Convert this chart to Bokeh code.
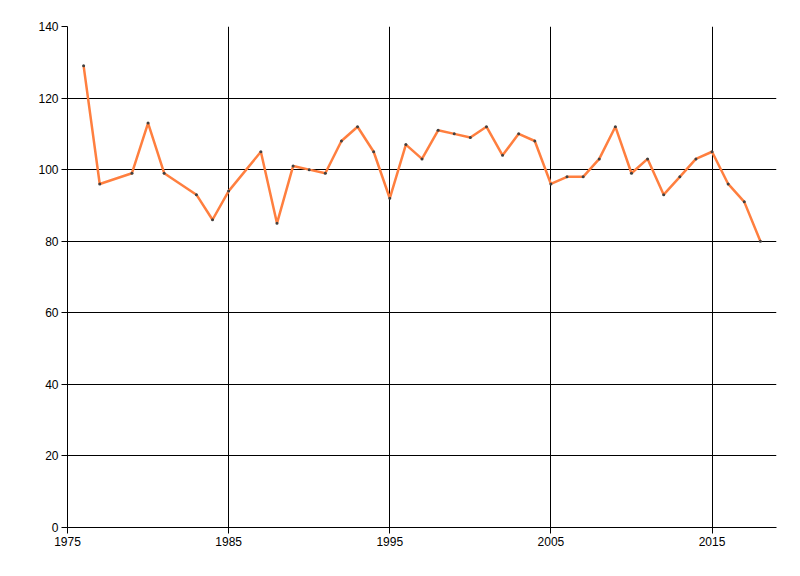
from bokeh.plotting import figure
from bokeh.models import FixedTicker, Range1d
from bokeh.embed import file_html
from bokeh.resources import INLINE

years = [1976, 1977, 1979, 1980, 1981, 1983, 1984, 1985,
         1987, 1988, 1989, 1990, 1991, 1992, 1993, 1994, 1995,
         1996, 1997, 1998, 1999, 2000, 2001, 2002, 2003, 2004, 2005,
         2006, 2007, 2008, 2009, 2010, 2011, 2012, 2013, 2014, 2015,
         2016, 2017, 2018]
values = [129, 96, 99, 113, 99, 93, 86, 94,
          105, 85, 101, 100, 99, 108, 112, 105, 92,
          107, 103, 111, 110, 109, 112, 104, 110, 108, 96,
          98, 98, 103, 112, 99, 103, 93, 98, 103, 105,
          96, 91, 80]
x_ticks = [1975, 1985, 1995, 2005, 2015]
y_ticks = [0, 20, 40, 60, 80, 100, 120, 140]

p = figure(width=792, height=568, output_backend="svg", toolbar_location=None,
           x_range=Range1d(1975, 2019), y_range=Range1d(0, 140),
           min_border_left=67, min_border_right=16, min_border_top=26, min_border_bottom=41)
p.outline_line_color = None
p.background_fill_color = "white"

p.line(years, values, line_color="#FF7F3F", line_width=2.5)
p.scatter(years, values, size=3, fill_color="#404040", line_color=None)

for ax in (p.xaxis[0], p.yaxis[0]):
    ax.axis_line_color = "black"
    ax.major_tick_line_color = "black"
    ax.minor_tick_line_color = None
    ax.major_tick_in = 0
    ax.major_tick_out = 6
    ax.major_label_text_font = "Liberation Sans"
    ax.major_label_text_font_size = "12px"
    ax.major_label_text_color = "black"
    ax.major_label_standoff = 3

p.xaxis.ticker = FixedTicker(ticks=x_ticks)
p.yaxis.ticker = FixedTicker(ticks=y_ticks)

p.xgrid.ticker = FixedTicker(ticks=x_ticks)
p.ygrid.ticker = FixedTicker(ticks=y_ticks)
p.grid.grid_line_color = "black"
p.grid.grid_line_width = 1
p.grid.grid_line_alpha = 1.0

open("out.html", "w").write(file_html(p, INLINE))
